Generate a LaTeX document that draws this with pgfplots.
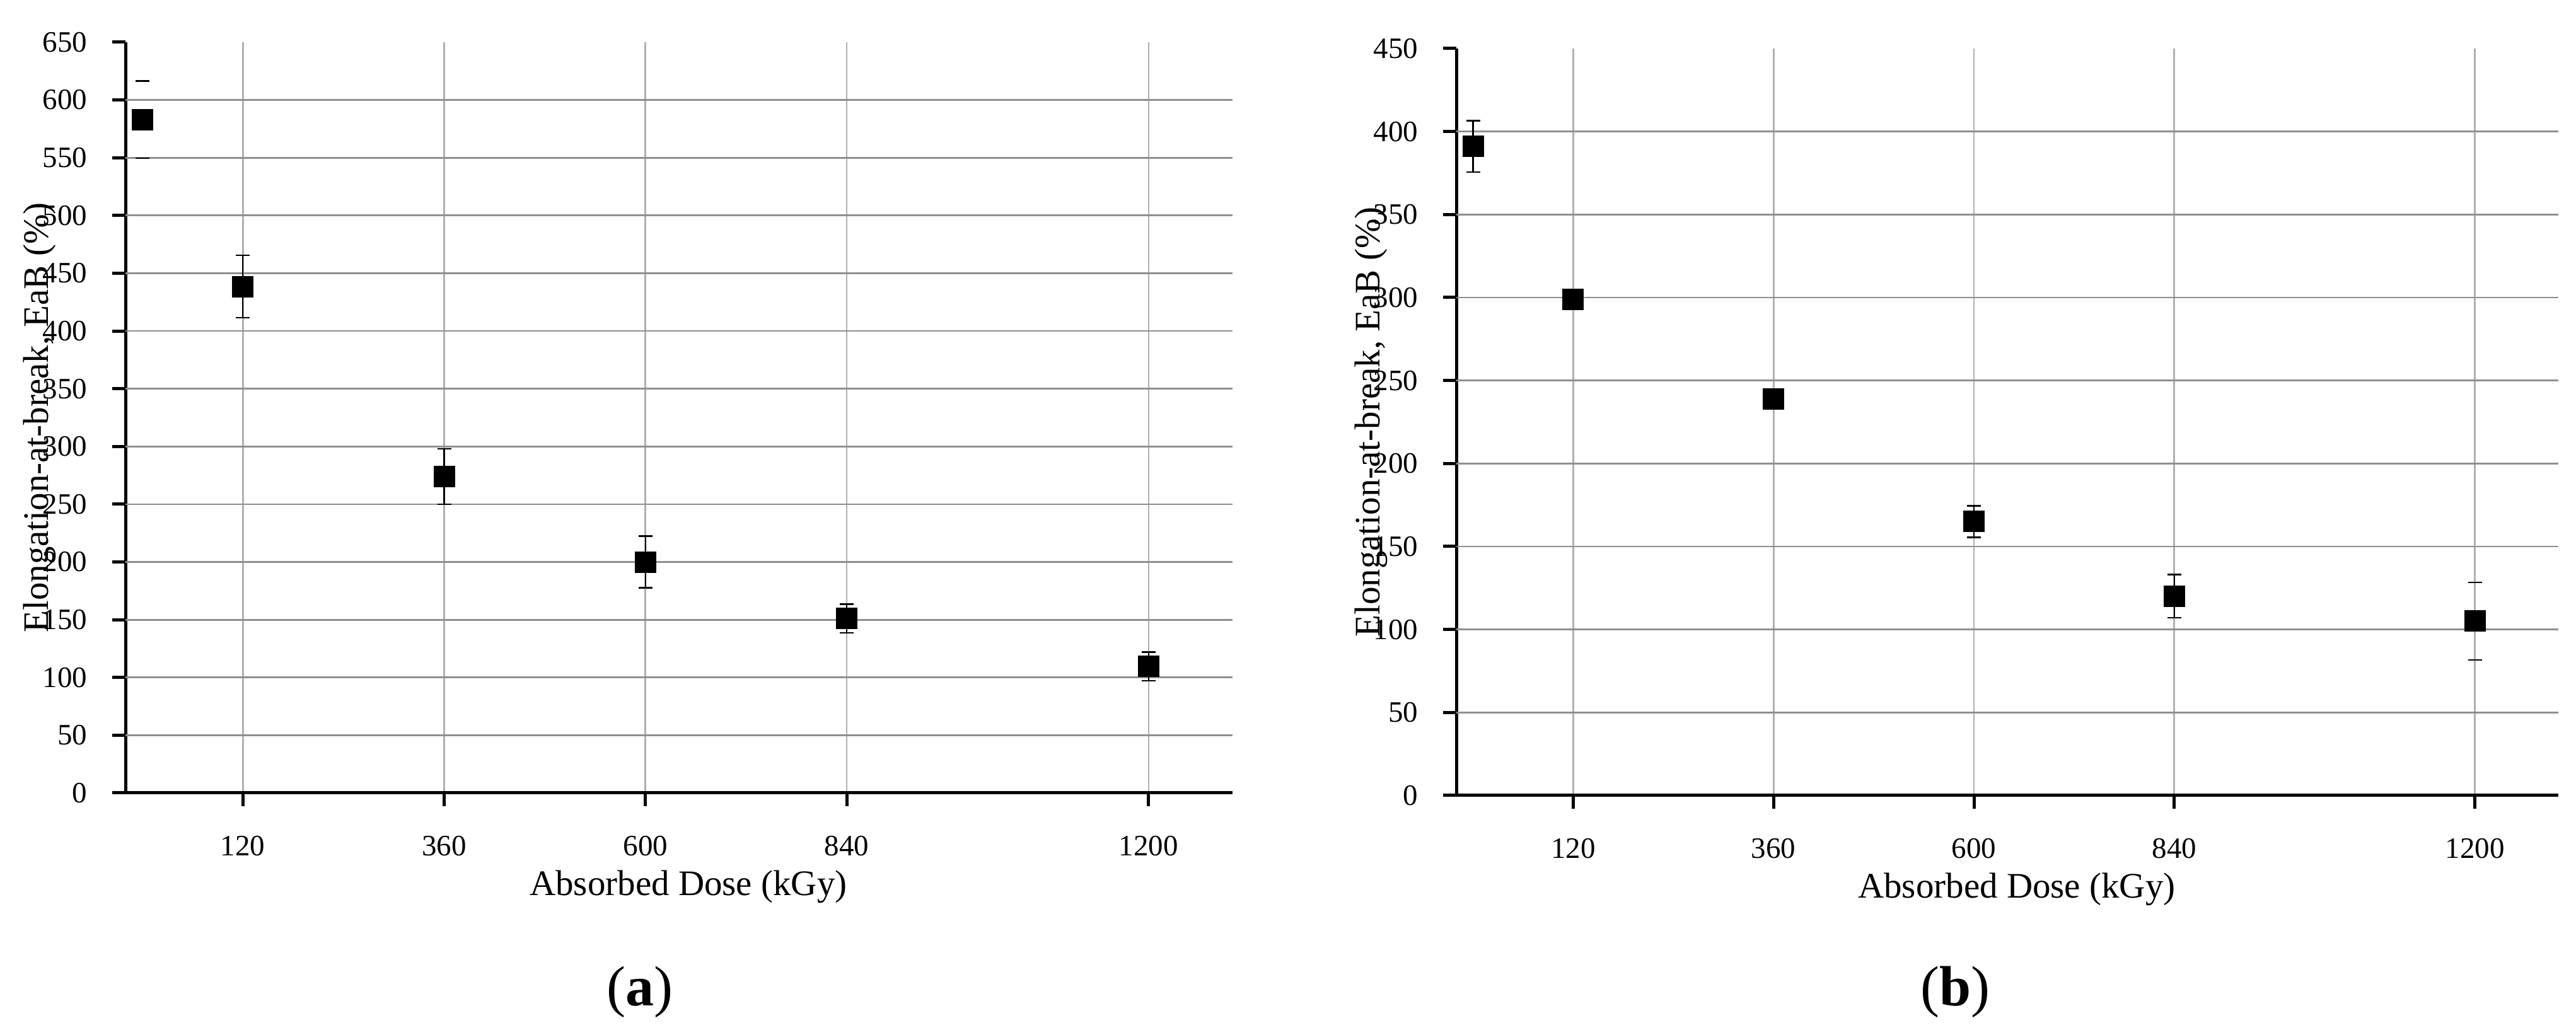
\documentclass[border=0pt]{standalone}
\usepackage{fontspec}
\setmainfont{Liberation Serif}
\usepackage{pgfplots}
\pgfplotsset{compat=1.18}

% measured: 1 px of the reference = 0.2pt
\pgfplotsset{
  eab/.style={
    scale only axis,
    xmin=-20, xmax=1300, ymin=0,
    axis x line*=bottom, axis y line*=left,
    axis line style={black, line width=1pt},
    xtick={120,360,600,840,1200},
    xmajorgrids=true,
    major grid style={gray!62, line width=0.55pt},
    tick align=outside, major tick length=4.2pt,
    tick style={black, line width=1pt},
    /pgf/number format/assume math mode=true,
    /pgf/number format/set thousands separator={},
    tick label style={font=\fontsize{9.4}{11}\selectfont},
    xticklabel style={yshift=-6pt},
    yticklabel style={xshift=-4.4pt},
    extra y tick labels={},
    extra y tick style={grid=major, major tick length=0pt,
      major grid style={gray!88, line width=0.55pt}},
    label style={font=\fontsize{11.4}{13}\selectfont},
    xlabel={Absorbed Dose (kGy)},
    xlabel style={at={(axis description cs:0.5,0)}, anchor=base, xshift=3pt, yshift=-32.6pt},
    ylabel={Elongation-at-break, EaB (\%)},
    ylabel style={at={(axis description cs:0,0.5)}, anchor=base, yshift=24.4pt},
  },
  pts/.style={
    only marks, black, mark=square*, mark size=3.2pt,
    error bars/.cd, y dir=both, y explicit,
    error bar style={black, line width=0.5pt},
    error mark options={black, rotate=90, line width=0.5pt, mark size=2.2pt},
  },
  caps/.style={only marks, black, mark=-, mark size=2.2pt, mark options={line width=0.5pt}},
}

\begin{document}
\begin{tikzpicture}
\path[use as bounding box] (0,0) rectangle (817.2pt,328.4pt);

% (a)
\begin{axis}[eab, at={(39.8pt,76.8pt)}, anchor=south west,
  width=351.2pt, height=238.2pt, ymax=650,
  ytick={0,50,...,650}, extra y ticks={50,100,...,600}]
\addplot[pts] table[x=x, y=y, y error=e] {
x y e
120 438.5 27
360 274 24
600 200 22.5
840 151 12.5
1200 109.5 12.5
};
\addplot[caps] coordinates {(0,616.5) (0,549.5)};
\addplot[only marks, black, mark=square*, mark size=3.2pt] coordinates {(0,583)};
\end{axis}

% (b)
\begin{axis}[eab, at={(462pt,76pt)}, anchor=south west,
  width=349.6pt, height=237pt, ymax=450,
  ytick={0,50,...,450}, extra y ticks={50,100,...,400}]
\addplot[pts] table[x=x, y=y, y error=e] {
x y e
0 391 15.5
120 299 0
360 239 0
600 165 9.5
840 120 13
};
\addplot[caps] coordinates {(1200,128.4) (1200,81.6)};
\addplot[only marks, black, mark=square*, mark size=3.2pt] coordinates {(1200,105)};
\end{axis}

\node[font=\fontsize{18}{20}\selectfont] at (203pt,13.6pt) {(\textbf{a})};
\node[font=\fontsize{18}{20}\selectfont] at (620.2pt,13.6pt) {(\textbf{b})};
\end{tikzpicture}
\end{document}
